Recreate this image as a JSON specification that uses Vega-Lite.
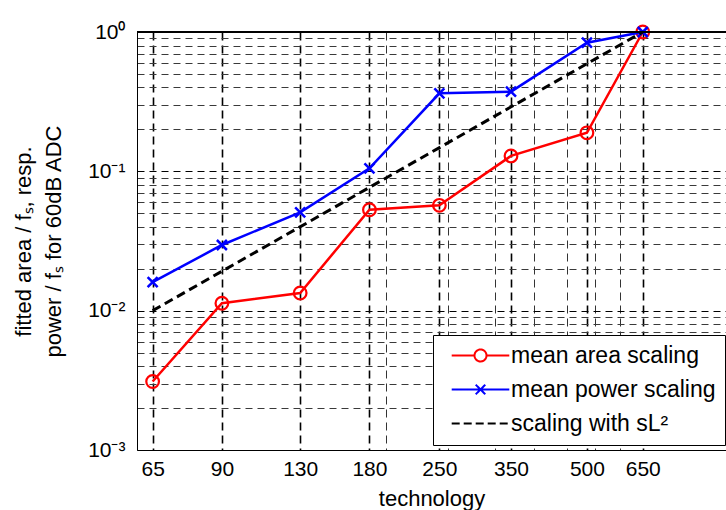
{
  "$schema": "https://vega.github.io/schema/vega-lite/v6.json",
  "autosize": {"type": "none"},
  "padding": {"left": 137, "top": 32, "right": 0, "bottom": 60},
  "width": 589,
  "height": 418,
  "background": "white",
  "config": {
    "font": "Liberation Sans",
    "view": {"stroke": null},
    "axis": {
      "domainColor": "black",
      "domainWidth": 1,
      "ticks": false,
      "grid": true,
      "gridColor": "#1a1a1a",
      "gridDash": [7, 5],
      "gridWidth": 1,
      "gridOpacity": 1,
      "labelColor": "black",
      "labelFontSize": 21,
      "titleColor": "black",
      "titleFontSize": 22,
      "titleFontWeight": "normal"
    }
  },
  "data": {
    "values": [
      {"tech": 65, "value": 0.0031, "series": "mean area scaling"},
      {"tech": 90, "value": 0.0113, "series": "mean area scaling"},
      {"tech": 130, "value": 0.0134, "series": "mean area scaling"},
      {"tech": 180, "value": 0.053, "series": "mean area scaling"},
      {"tech": 250, "value": 0.057, "series": "mean area scaling"},
      {"tech": 350, "value": 0.129, "series": "mean area scaling"},
      {"tech": 500, "value": 0.189, "series": "mean area scaling"},
      {"tech": 650, "value": 1.0, "series": "mean area scaling"},
      {"tech": 65, "value": 0.016, "series": "mean power scaling"},
      {"tech": 90, "value": 0.0296, "series": "mean power scaling"},
      {"tech": 130, "value": 0.0508, "series": "mean power scaling"},
      {"tech": 180, "value": 0.105, "series": "mean power scaling"},
      {"tech": 250, "value": 0.363, "series": "mean power scaling"},
      {"tech": 350, "value": 0.373, "series": "mean power scaling"},
      {"tech": 500, "value": 0.838, "series": "mean power scaling"},
      {"tech": 650, "value": 1.0, "series": "mean power scaling"},
      {"tech": 65, "value": 0.01, "series": "scaling with sL²"},
      {"tech": 650, "value": 1.0, "series": "scaling with sL²"}
    ]
  },
  "layer": [
    {
      "encoding": {
        "x": {
          "field": "tech",
          "type": "quantitative",
          "scale": {"type": "log", "domain": [60.4, 961], "nice": false},
          "axis": {
            "title": "technology",
            "values": [65, 90, 130, 180, 195, 250, 260, 325, 350, 390, 455, 500, 520, 585, 650],
            "labelExpr": "indexof([65, 90, 130, 180, 250, 350, 500, 650], datum.value) >= 0 ? '' + datum.value : ''",
            "gridWidth": {"condition": {"test": "indexof([65, 90, 130, 180, 250, 350, 500, 650], datum.value) >= 0", "value": 1.6}, "value": 1},
            "gridColor": {"condition": {"test": "indexof([65, 90, 130, 180, 250, 350, 500, 650], datum.value) >= 0", "value": "#000000"}, "value": "#333333"},
            "gridDash": [8, 5],
            "labelPadding": 8,
            "titlePadding": 9,
            "labelFlush": false,
            "labelOverlap": false
          }
        },
        "y": {
          "field": "value",
          "type": "quantitative",
          "scale": {"type": "log", "domain": [0.001, 1], "nice": false},
          "axis": {
            "title": ["fitted area / fₛ, resp.", "power / fₛ for 60dB ADC"],
            "titleFontSize": 22,
            "titleLineHeight": 30,
            "titlePadding": 22,
            "values": [0.001, 0.002, 0.003, 0.004, 0.005, 0.006, 0.007, 0.008, 0.009, 0.01, 0.02, 0.03, 0.04, 0.05, 0.06, 0.07, 0.08, 0.09, 0.1, 0.2, 0.3, 0.4, 0.5, 0.6, 0.7, 0.8, 0.9, 1],
            "labelExpr": "datum.value == 1 ? '10⁰' : datum.value == 0.1 ? '10⁻¹' : datum.value == 0.01 ? '10⁻²' : datum.value == 0.001 ? '10⁻³' : ''",
            "gridColor": {"condition": {"test": "datum.value == 1 || datum.value == 0.1 || datum.value == 0.01 || datum.value == 0.001", "value": "#000000"}, "value": "#3a3a3a"},
            "labelPadding": 12,
            "labelFlush": false,
            "labelOverlap": false
          }
        },
        "color": {
          "field": "series",
          "type": "nominal",
          "scale": {
            "domain": ["mean area scaling", "mean power scaling", "scaling with sL²"],
            "range": ["#ff0000", "#0000ff", "#000000"]
          },
          "legend": {
            "title": null,
            "orient": "none",
            "legendX": 296,
            "legendY": 303,
            "fillColor": "white",
            "strokeColor": "black",
            "padding": 9,
            "labelFontSize": 23,
            "labelColor": "black",
            "labelLimit": 0,
            "symbolOffset": 27,
            "labelOffset": 19,
            "rowPadding": 10,
            "symbolSize": 144,
            "encoding": {
              "symbols": {
                "shape": {"value": {"expr": "datum.value == 'mean area scaling' ? 'M-4.8,0L-1,0M1,0L4.8,0M1,0A1,1,0,1,1,-1,0A1,1,0,1,1,1,0' : datum.value == 'mean power scaling' ? 'M-4.8,0L4.8,0M-0.8,-0.8L0.8,0.8M-0.8,0.8L0.8,-0.8' : 'M-4.8,0L4.8,0'"}},
                "strokeDash": {"value": {"expr": "datum.value == 'scaling with sL²' ? [8, 4] : [1, 0]"}},
                "fill": {"value": "transparent"},
                "stroke": {"value": {"expr": "scale('color', datum.value)"}},
                "strokeWidth": {"value": 2},
                "size": {"value": 144},
                "opacity": {"value": 1}
              }
            }
          }
        }
      },
      "layer": [
        {
          "transform": [{"filter": "datum.series == 'mean area scaling'"}],
          "mark": {"type": "line", "strokeWidth": 2.5}
        },
        {
          "transform": [{"filter": "datum.series == 'mean area scaling'"}],
          "mark": {"type": "point", "shape": "circle", "filled": false, "size": 160, "strokeWidth": 2.2, "opacity": 1}
        },
        {
          "transform": [{"filter": "datum.series == 'mean power scaling'"}],
          "mark": {"type": "line", "strokeWidth": 2.5}
        },
        {
          "transform": [{"filter": "datum.series == 'mean power scaling'"}],
          "mark": {"type": "point", "shape": "M-1,-1L1,1M-1,1L1,-1", "filled": false, "size": 100, "strokeWidth": 2.5, "opacity": 1}
        },
        {
          "transform": [{"filter": "datum.series == 'scaling with sL²'"}],
          "mark": {"type": "line", "strokeWidth": 3, "strokeDash": [9, 5]}
        }
      ]
    },
    {
      "mark": {"type": "rule", "color": "black", "strokeWidth": 1},
      "encoding": {"y": {"datum": 1}}
    }
  ]
}
